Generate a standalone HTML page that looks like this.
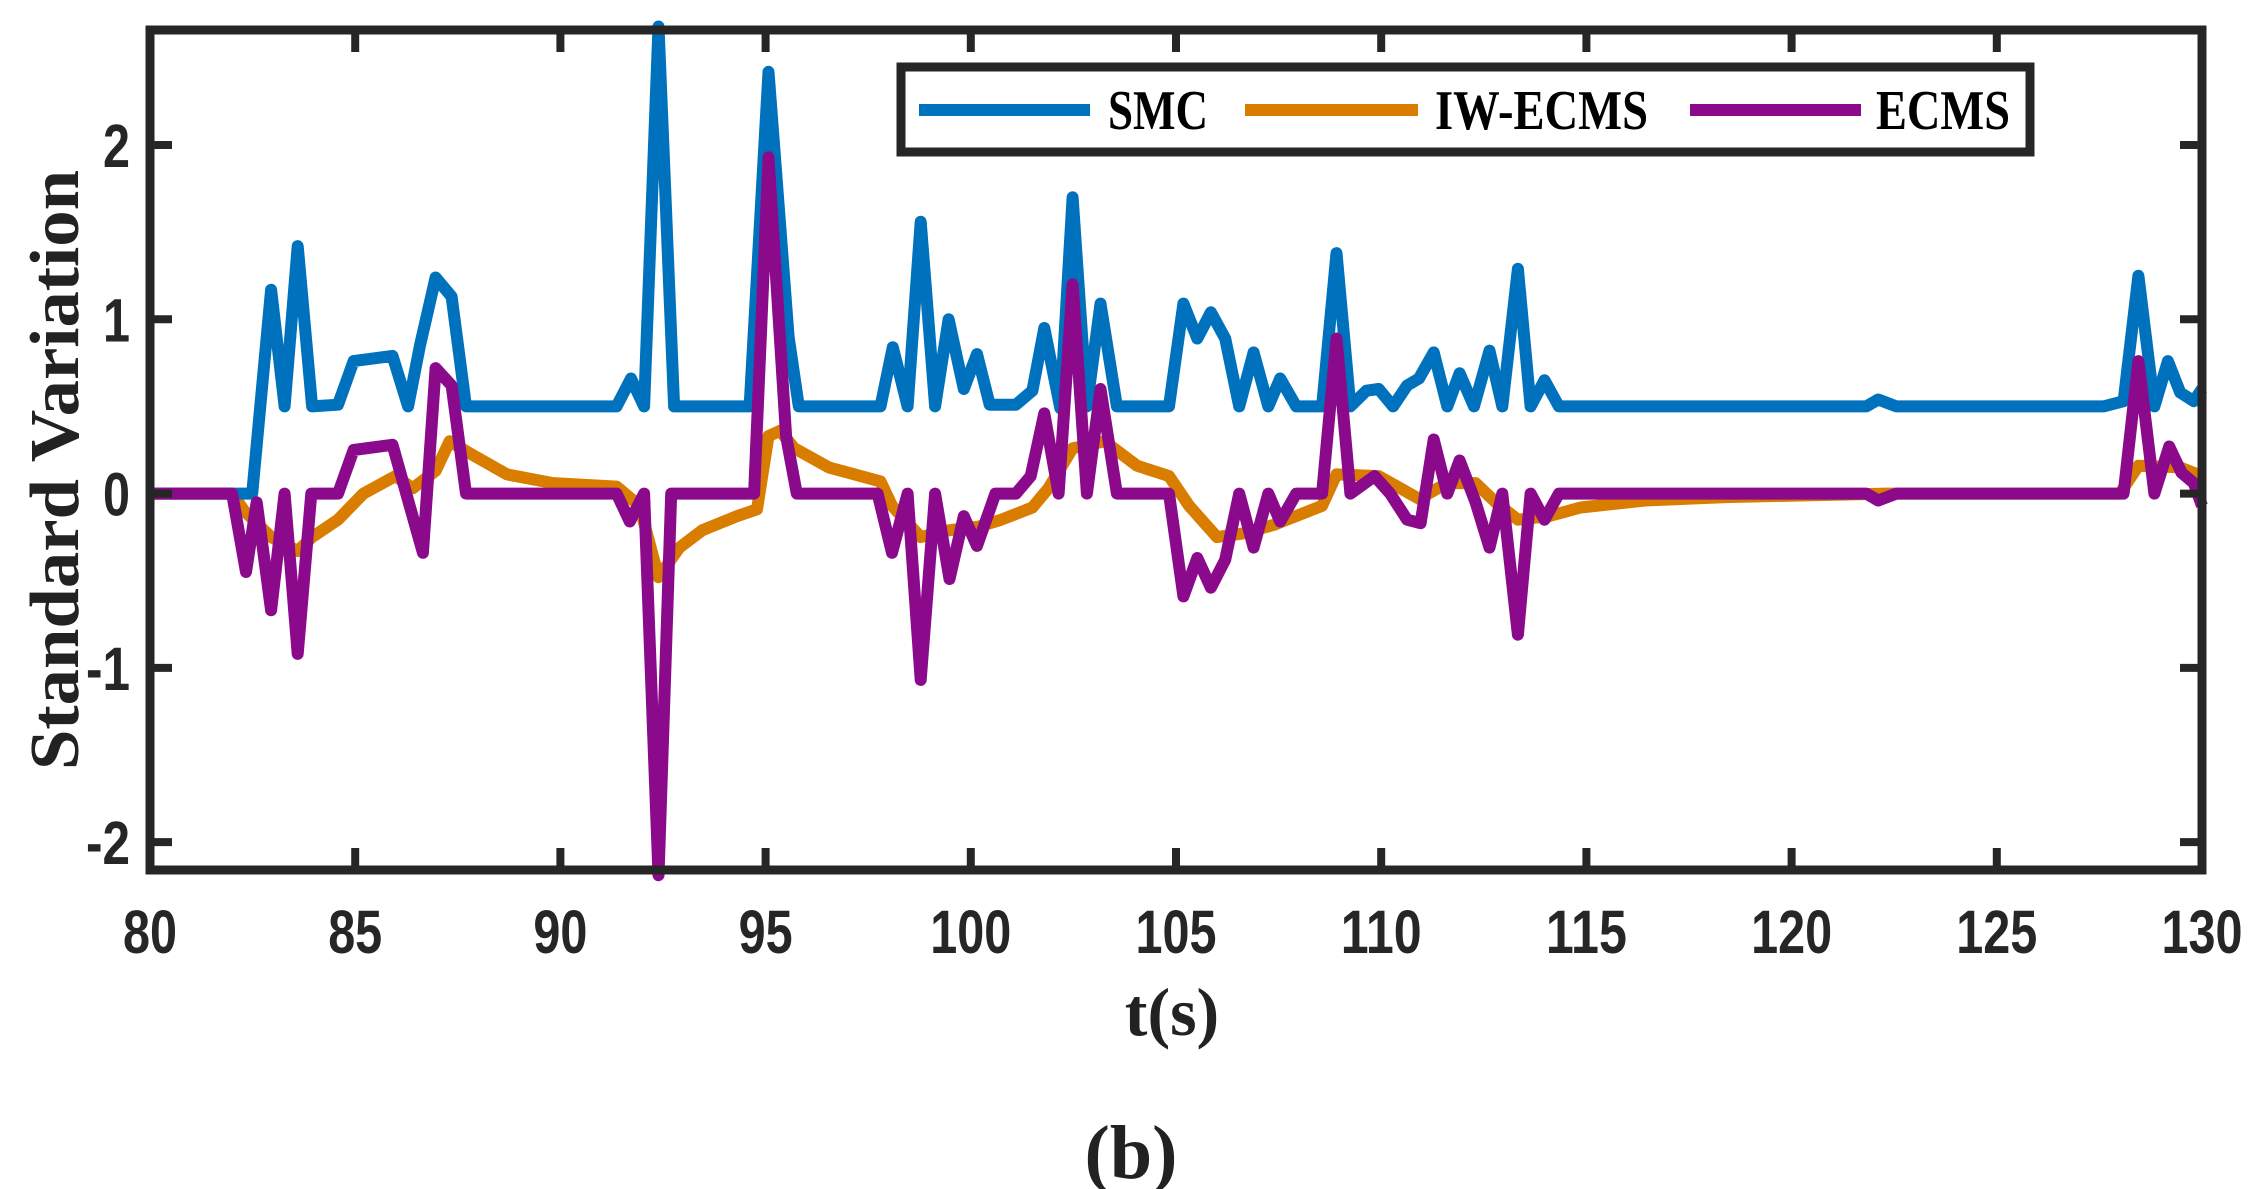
<!DOCTYPE html>
<html><head><meta charset="utf-8"><style>
html,body{margin:0;padding:0;background:#fff;}
svg{display:block;}
</style></head><body>
<svg id="chart" width="2262" height="1189" viewBox="0 0 2262 1189" xmlns="http://www.w3.org/2000/svg">
<rect x="0" y="0" width="2262" height="1189" fill="#fff"/>
<g id="series"></g>
<g id="axes"></g>
<text x="78" y="470" transform="rotate(-90 78 470)" text-anchor="middle" textLength="600" lengthAdjust="spacingAndGlyphs" font-family="'Liberation Serif',serif" font-weight="bold" font-size="70" fill="#222">Standard Variation</text>
<text x="1172" y="1035" text-anchor="middle" font-family="'Liberation Serif',serif" font-weight="bold" font-size="68" fill="#222">t(s)</text>
<text x="1131" y="1178" text-anchor="middle" font-family="'Liberation Serif',serif" font-weight="bold" font-size="76" fill="#222">(b)</text>
<g>
<rect x="901" y="67" width="1129" height="85" fill="#fff" stroke="#262626" stroke-width="9"/>
<line x1="919" y1="110" x2="1090" y2="110" stroke="#0072BD" stroke-width="12"/>
<text x="1108" y="129" textLength="100" lengthAdjust="spacingAndGlyphs" font-family="'Liberation Serif',serif" font-weight="bold" font-size="56" fill="#000">SMC</text>
<line x1="1245" y1="110" x2="1418" y2="110" stroke="#D97D00" stroke-width="12"/>
<text x="1435" y="129" textLength="213" lengthAdjust="spacingAndGlyphs" font-family="'Liberation Serif',serif" font-weight="bold" font-size="56" fill="#000">IW-ECMS</text>
<line x1="1690" y1="110" x2="1861" y2="110" stroke="#8B0A8B" stroke-width="12"/>
<text x="1876" y="129" textLength="134" lengthAdjust="spacingAndGlyphs" font-family="'Liberation Serif',serif" font-weight="bold" font-size="56" fill="#000">ECMS</text>
</g>
</svg>
<script>
const xTicks = [80,85,90,95,100,105,110,115,120,125,130];
const yTicks = [-2,-1,0,1,2];
const smcT = [80,82.0,82.49,82.95,83.28,83.6,83.95,84.58,84.96,85.91,86.29,86.58,86.96,87.35,87.7,91.37,91.72,92.04,92.39,92.77,94.61,95.07,95.56,95.81,97.8,98.1,98.46,98.78,99.13,99.46,99.83,100.15,100.46,101.1,101.5,101.79,102.18,102.48,102.83,103.16,103.56,104.83,105.18,105.52,105.85,106.2,106.54,106.89,107.25,107.54,107.93,108.56,108.91,109.25,109.64,109.94,110.29,110.63,110.92,111.28,111.61,111.91,112.26,112.64,112.95,113.33,113.64,113.98,114.33,121.82,122.11,122.55,127.6,128.09,128.45,128.84,129.17,129.47,129.8,130];
const smcV = [0,0,0,1.17,0.5,1.42,0.5,0.51,0.76,0.79,0.5,0.85,1.24,1.13,0.5,0.5,0.66,0.5,2.68,0.5,0.5,2.42,0.9,0.5,0.5,0.84,0.5,1.56,0.5,1.0,0.6,0.8,0.51,0.51,0.59,0.95,0.49,1.7,0.5,1.09,0.5,0.5,1.09,0.89,1.04,0.89,0.5,0.81,0.5,0.66,0.5,0.5,1.38,0.5,0.59,0.6,0.5,0.62,0.66,0.81,0.5,0.69,0.5,0.82,0.5,1.29,0.5,0.65,0.5,0.5,0.54,0.5,0.5,0.53,1.25,0.5,0.76,0.58,0.53,0.6];
const iwT = [80,82.0,82.3,82.95,83.6,83.95,84.58,85.2,85.98,86.4,86.96,87.3,87.8,88.7,89.82,91.37,91.93,92.39,92.9,93.46,94.3,94.79,95.07,95.35,95.7,96.54,97.8,98.08,98.78,99.48,100.18,100.74,101.5,101.89,102.48,103.26,104.05,104.83,105.32,106.0,106.6,107.38,108.56,108.91,109.94,110.92,111.61,112.3,112.79,113.33,114.08,114.86,116.43,118.39,122.3,128.0,128.45,129.47,130];
const iwV = [0,0,-0.1,-0.25,-0.33,-0.25,-0.15,0,0.1,0.03,0.13,0.3,0.23,0.11,0.06,0.04,-0.07,-0.48,-0.31,-0.21,-0.13,-0.09,0.33,0.36,0.26,0.15,0.07,-0.07,-0.25,-0.21,-0.19,-0.15,-0.08,0.03,0.26,0.3,0.16,0.1,-0.07,-0.25,-0.23,-0.18,-0.07,0.11,0.1,-0.03,0.06,0.06,-0.05,-0.15,-0.13,-0.08,-0.04,-0.02,0,0,0.16,0.15,0.1];
const ecT = [80,82.0,82.34,82.6,82.95,83.28,83.6,83.93,84.58,84.96,85.91,86.65,86.96,87.35,87.7,91.37,91.69,92.04,92.39,92.7,94.72,95.07,95.5,95.76,97.73,98.08,98.46,98.78,99.13,99.48,99.83,100.15,100.6,101.1,101.46,101.79,102.14,102.48,102.83,103.16,103.56,104.83,105.18,105.52,105.85,106.2,106.54,106.89,107.25,107.54,107.93,108.56,108.91,109.25,109.84,110.22,110.63,110.96,111.28,111.61,111.91,112.3,112.64,112.95,113.33,113.64,113.98,114.33,121.82,122.11,122.55,127.8,128.09,128.45,128.84,129.2,129.5,129.8,130];
const ecV = [0,0,-0.45,-0.05,-0.67,0,-0.92,0,0,0.25,0.28,-0.34,0.72,0.62,0,0,-0.16,0,-2.19,0,0,1.93,0.33,0,0,-0.34,0,-1.07,0,-0.49,-0.13,-0.3,0,0,0.1,0.46,0,1.2,0,0.6,0,0,-0.59,-0.37,-0.54,-0.38,0,-0.31,0,-0.16,0,0,0.89,0,0.1,0,-0.15,-0.17,0.31,0,0.19,-0.05,-0.31,0,-0.81,0,-0.15,0,0,-0.04,0,0,0,0.76,0,0.27,0.12,0.06,-0.07];

const X0=150, X1=2202, Y0=30, Y1=870;
const xMin=80, xMax=130, yMin=-2.16, yMax=2.66;
function xs(t){return X0+(t-xMin)/(xMax-xMin)*(X1-X0);}
function ys(v){return Y1-(v-yMin)/(yMax-yMin)*(Y1-Y0);}
const NS='http://www.w3.org/2000/svg';
const sg=document.getElementById('series');
const ax=document.getElementById('axes');
function addLine(T,V,color,name){
  const p=document.createElementNS(NS,'polyline');
  p.setAttribute('points',T.map((t,i)=>xs(t).toFixed(1)+','+ys(V[i]).toFixed(1)).join(' '));
  p.setAttribute('fill','none');p.setAttribute('stroke',color);p.setAttribute('stroke-width','12');
  p.setAttribute('stroke-linejoin','round');
  
  
  sg.appendChild(p);
}
addLine(iwT,iwV,'#D97D00','iw-ecms-line');
addLine(smcT,smcV,'#0072BD','smc-line');
addLine(ecT,ecV,'#8B0A8B','ecms-line');

const frame=document.createElementNS(NS,'rect');
frame.setAttribute('x',X0);frame.setAttribute('y',Y0);frame.setAttribute('width',X1-X0);frame.setAttribute('height',Y1-Y0);
frame.setAttribute('fill','none');frame.setAttribute('stroke','#262626');frame.setAttribute('stroke-width','9');


ax.appendChild(frame);
function ln(x1,y1,x2,y2){const l=document.createElementNS(NS,'line');l.setAttribute('x1',x1);l.setAttribute('y1',y1);l.setAttribute('x2',x2);l.setAttribute('y2',y2);l.setAttribute('stroke','#262626');l.setAttribute('stroke-width','8');return l;}
xTicks.forEach(t=>{
  const x=xs(t);
  const a=ln(x,Y1,x,Y1-22);
  
  
  ax.appendChild(a);
  const b=ln(x,Y0,x,Y0+22);
  
  
  ax.appendChild(b);
  const tx=document.createElementNS(NS,'text');
  tx.setAttribute('x',x);tx.setAttribute('y',953);tx.setAttribute('text-anchor','middle');
  tx.setAttribute('font-family',"'Liberation Sans',sans-serif");tx.setAttribute('font-weight','bold');tx.setAttribute('font-size','61');tx.setAttribute('fill','#262626');
  tx.setAttribute('textLength',String(t).length*27);tx.setAttribute('lengthAdjust','spacingAndGlyphs');
  tx.textContent=t;
  
  
  ax.appendChild(tx);
});
yTicks.forEach(v=>{
  const y=ys(v);
  const a=ln(X0,y,X0+22,y);
  
  
  ax.appendChild(a);
  const b=ln(X1,y,X1-22,y);
  
  
  ax.appendChild(b);
  const tx=document.createElementNS(NS,'text');
  tx.setAttribute('x',130);tx.setAttribute('y',y+22);tx.setAttribute('text-anchor','end');
  tx.setAttribute('font-family',"'Liberation Sans',sans-serif");tx.setAttribute('font-weight','bold');tx.setAttribute('font-size','61');tx.setAttribute('fill','#262626');
  tx.setAttribute('textLength',v<0?44:27);tx.setAttribute('lengthAdjust','spacingAndGlyphs');
  tx.textContent=v;
  
  
  ax.appendChild(tx);
});
</script>
</body></html>
